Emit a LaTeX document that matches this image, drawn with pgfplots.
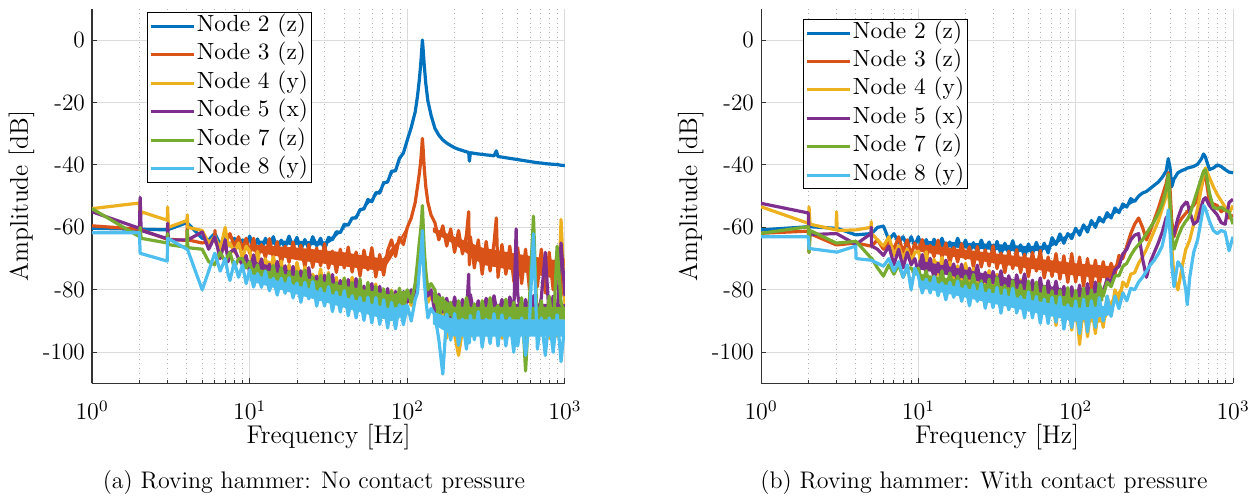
\documentclass[border=0pt]{standalone}
\usepackage{graphicx}
\usepackage{pgfplots}
\usepackage{pgfplotstable}
\pgfplotsset{compat=1.18}
\definecolor{c1}{rgb}{0,0.447,0.741}
\definecolor{c2}{rgb}{0.850,0.325,0.098}
\definecolor{c3}{rgb}{0.929,0.694,0.125}
\definecolor{c4}{rgb}{0.494,0.184,0.556}
\definecolor{c5}{rgb}{0.466,0.674,0.188}
\definecolor{c6}{rgb}{0.301,0.745,0.933}
\pgfplotsset{
  legend image code/.code={\draw[#1, line width=1.5pt] (0pt,0pt) -- (21.3pt,0pt);},
  every axis plot/.append style={line width=1.6pt, line join=round},
  band/.style={fill=#1, draw=none, forget plot},
}
\newcommand{\lfont}{\fontsize{12.8}{15}\selectfont}
\newcommand{\tfont}{\fontsize{11.7}{14}\selectfont}
\newcommand{\legtxt}[1]{\scalebox{1.17}{#1}}
% columns: f, Node2, Node3, Node4, Node5, Node7, Node8
\pgfplotstableread{
f a b c d e g
1 -60.3 -59.5 -54 -55 -54 -61.7
2 -60.6 -60.6 -52.2 -60.3 -63 -61.7
2.02 -60.6 -60.6 -57 -50.4 -60 -68.3
2.05 -60.6 -60.8 -55 -61 -63.5 -68.4
3 -60.8 -63.8 -57.7 -63.6 -65 -70.8
3.02 -60.8 -63.8 -53.5 -58.7 -62 -63.5
3.05 -60.7 -63.8 -60 -64 -65.5 -63.6
4 -58.5 -64.2 -57.8 -64 -66.4 -67
4.02 -58.6 -57.4 -56 -64 -61 -67.1
4.05 -58.7 -64 -60 -64 -66.5 -67.3
5 -63.5 -65 -61 -61.5 -67 -80
5.5 -64 -64.5 -65 -67 -71 -74
6 -62 -64 -63 -63 -72 -68.3
6.02 -62 -61 -63 -63.2 -71.8 -68.4
6.05 -62.2 -64.5 -63.2 -63.5 -71.5 -68.6
6.5 -65.5 -66 -67 -70 -68 -74
7 -63 -67 -60 -64 -71 -70
7.3 -65 -63 -66 -71 -69 -75
7.5 -66 -62 -65 -68 -68 -77
8 -63.5 -66 -68 -67 -73 -71
8.5 -66.5 -63 -65 -70 -70 -76
9 -64 -67 -70 -72 -70 -72
9.5 -66 -63.5 -66 -69 -73 -78
10 -62.8 -68.3 -67.6 -74.5 -71.0 -73.6
10.59 -66.8 -63.5 -72.3 -68.8 -75.8 -79.1
11.22 -63.7 -70.0 -67.7 -74.8 -72.0 -74.8
11.89 -67.2 -65.5 -73.5 -70.1 -77.8 -79.2
12.59 -63.5 -69.7 -70.0 -77.0 -73.8 -74.1
13.34 -66.1 -63.6 -75.1 -71.8 -77.8 -80.3
14.13 -63.0 -69.7 -69.4 -77.0 -72.2 -76.3
14.96 -67.0 -64.6 -74.3 -70.9 -78.8 -81.7
15.85 -64.1 -71.6 -70.8 -76.2 -72.9 -76.3
16.79 -66.5 -66.0 -77.4 -72.3 -78.8 -81.1
17.78 -62.8 -71.2 -72.0 -79.3 -74.1 -76.1
18.84 -66.3 -64.7 -77.6 -72.5 -81.0 -82.6
19.95 -63.2 -70.0 -71.2 -79.6 -74.1 -77.8
21.13 -67.2 -65.7 -77.4 -73.9 -79.7 -84.0
22.39 -63.9 -72.8 -72.7 -79.5 -73.7 -77.6
23.71 -66.8 -65.5 -79.9 -72.9 -81.1 -82.9
25.12 -63.0 -72.8 -75.0 -80.7 -75.8 -77.4
26.61 -65.9 -66.6 -80.0 -75.6 -82.7 -85.2
28.18 -63.5 -72.3 -73.3 -82.3 -75.4 -79.6
29.85 -67.2 -65.2 -81.4 -75.3 -82.0 -85.2
31.62 -63.2 -73.1 -74.4 -81.3 -74.9 -79.0
33.5 -63.9 -67.6 -81.4 -75.1 -83.6 -87.0
35.48 -61.4 -74.4 -76.0 -82.9 -77.7 -80.7
37.58 -61.7 -67.0 -84.2 -77.0 -85.3 -87.1
39.81 -59.0 -73.0 -76.3 -84.5 -76.2 -80.3
42.17 -59.3 -66.3 -82.8 -76.7 -84.0 -88.3
44.67 -57.0 -74.3 -76.0 -83.0 -77.6 -81.9
47.32 -57.0 -67.9 -84.7 -76.4 -86.2 -89.0
50.12 -54.3 -75.6 -78.7 -85.5 -76.5 -82.4
53.09 -54.1 -67.3 -86.6 -78.8 -87.7 -89.8
56.23 -51.1 -73.6 -78.4 -85.3 -77.6 -82.3
59.57 -51.8 -66.5 -86.0 -78.0 -87.0 -90.6
63.1 -48.9 -75.9 -78.1 -86.0 -78.9 -82.5
66.83 -49.0 -68.7 -88.0 -78.9 -88.3 -91.1
70.79 -45.7 -75.3 -81.5 -86.4 -79.7 -83.2
74.99 -45.5 -67.5 -90.0 -79.6 -88.4 -92.2
79.43 -42.0 -64.0 -80.1 -87.5 -80.4 -84.0
84.14 -41.9 -69.3 -86.4 -80.5 -87.5 -92.5
89.13 -37.9 -63.2 -80.2 -86.0 -79.5 -84.8
94.41 -36.2 -65.5 -85.6 -80.6 -86.6 -91.2
100 -32.0 -60.0 -81.5 -84.0 -80.0 -85.0
105.9 -28 -57 -85 -80 -84 -90
112.2 -23 -52 -80 -83 -78 -83
116 -18 -47 -75 -77 -71 -81
119 -13 -43 -71 -72 -65 -74
121.5 -8 -39 -66 -67 -61 -69
123.3 -3.5 -35 -61 -62 -57 -65
124.6 0 -31.5 -57 -58 -53 -61
126 -3 -35 -63 -66 -59 -69
128 -8 -41 -71 -73 -67 -77
131 -14 -47 -78 -78 -74 -83
135 -19.5 -52 -84 -82 -80 -89
141.3 -24 -56 -82 -80 -78 -86
149.6 -28.3 -58.5 -81.5 -87.2 -80.0 -88.0
158.5 -30.5 -64 -90.2 -81.4 -90.0 -96.0
167.9 -32.0 -59.5 -85.2 -87.1 -82.5 -107
177.8 -33.0 -66 -95.5 -82.7 -90.5 -87.8
188.4 -33.8 -60.5 -86.7 -89.5 -84.0 -96.1
199.5 -34.5 -68 -94.4 -82.3 -92.5 -87.6
211.3 -35.0 -61 -101 -89.1 -83.5 -97.8
223.9 -35.4 -68.5 -92.8 -83.1 -90.0 -89.4
237.1 -35.8 -62.5 -85.6 -88.3 -82.5 -99.0
245 -36.0 -55 -88 -75 -86 -92
247.5 -38.8 -72 -93 -88 -91 -97
251.2 -36.1 -63 -95.0 -81.5 -91.0 -88.2
266.1 -36.3 -73 -87.8 -88.7 -84.5 -96.0
281.8 -36.5 -64 -93.9 -83.5 -92.0 -87.0
298.5 -36.6 -75 -84.5 -89.5 -83.5 -98.4
316.2 -36.8 -64.5 -94.4 -82.7 -90.5 -89.4
335 -36.9 -74 -85.0 -87.9 -82.5 -97.2
354.8 -37.1 -65 -93.3 -81.9 -91.5 -87.6
367 -35.5 -57 -88 -86 -86 -93
375.8 -37.3 -76 -86.2 -88.7 -85.0 -98
398.1 -37.5 -65.5 -95.5 -83.1 -92.5 -88
421.7 -37.7 -75 -85.6 -89.5 -83.0 -98
446.7 -37.9 -66 -92.8 -82.3 -90.5 -89
473.2 -38.1 -77 -84.5 -87.5 -84.0 -100
490 -38.2 -80 -90 -60.5 -90 -90
501.2 -38.3 -66.5 -93.9 -81.5 -92.0 -98
530.9 -38.5 -78 -86.7 -89.1 -82.5 -89
562.3 -38.7 -67 -95.0 -83.1 -106 -101
595.7 -38.9 -80 -85.6 -88.3 -83 -90
631 -39.1 -67.5 -93.3 -81.9 -56.4 -62
668.3 -39.3 -79 -84.5 -89.5 -93 -99
707.9 -39.4 -67 -94.4 -82.5 -83.5 -89
749.9 -39.6 -81 -87.2 -68 -94 -101
794.3 -39.7 -68 -95.5 -89 -82 -89
841.4 -39.8 -80 -85 -82 -94 -100
891.3 -39.9 -67.5 -95 -89 -66 -88
944.1 -40.1 -82 -57.5 -65 -84 -103
1000 -40.2 -70 -85 -82 -88 -90
}\tabL
\pgfplotstableread{
f a b c d e g
1 -60.8 -61.9 -53.4 -52.3 -61.9 -63
2 -59.8 -61.2 -58.7 -55.4 -59.8 -63
2.02 -59.8 -68 -53.4 -62.4 -68 -66.8
2.05 -59.8 -62 -59 -62.3 -61 -66.8
3 -60.3 -65.6 -60.8 -62 -65 -67.9
3.02 -60.3 -65.6 -55 -62 -65 -67.9
3.05 -60.3 -65.6 -61 -62.1 -65 -67.9
4 -62.4 -65 -60.8 -65.4 -64.5 -66
4.02 -62.4 -65 -60.8 -65.4 -64.5 -70
5 -62 -66 -60 -62 -69.8 -70.5
5.02 -62 -66 -58.2 -60 -69.8 -70.5
5.05 -62 -66 -62 -66 -69.9 -70.6
5.5 -60 -64 -64 -67 -73 -71.5
6 -59.6 -67 -66 -69 -75.6 -72.4
6.5 -64 -64.5 -63 -66 -72 -70
7 -62 -67 -69 -72 -75 -74
7.5 -65 -63 -66 -67 -72 -71
8 -63 -68 -70 -73 -76 -76
8.5 -66 -64 -67 -68 -73 -72
9 -63 -69 -71 -72 -73 -80
9.5 -66 -65 -68 -70 -75 -73
10 -63.0 -68.0 -67.6 -74.5 -73.0 -75.6
10.59 -66.7 -63.9 -72.3 -68.7 -77.8 -81.0
11.22 -63.9 -69.6 -67.8 -74.6 -73.9 -76.6
11.89 -67.3 -65.8 -73.6 -69.9 -79.6 -81.0
12.59 -63.8 -69.4 -70.2 -76.6 -75.6 -75.8
13.34 -66.4 -64.1 -75.3 -71.5 -79.5 -81.9
14.13 -63.5 -69.5 -69.6 -76.4 -73.9 -77.8
14.96 -67.4 -65.0 -74.6 -70.5 -80.4 -83.2
15.85 -64.7 -71.3 -71.1 -75.4 -74.6 -77.6
16.79 -67.2 -66.4 -77.7 -71.7 -80.2 -82.4
17.78 -63.5 -71.1 -72.3 -78.1 -75.6 -77.2
18.84 -67.1 -65.2 -78.0 -71.8 -82.3 -83.7
19.95 -64.1 -70.0 -71.5 -78.3 -75.6 -78.8
21.13 -68.2 -66.2 -77.8 -73.1 -80.9 -85.1
22.39 -64.9 -72.7 -73.1 -78.1 -75.1 -78.4
23.71 -67.9 -66.1 -80.5 -72.1 -82.3 -83.7
25.12 -64.1 -72.7 -75.5 -79.0 -77.1 -78.0
26.61 -67.1 -67.2 -80.6 -74.4 -83.7 -85.9
28.18 -64.7 -72.4 -73.8 -80.2 -76.6 -80.0
29.85 -68.7 -65.9 -82.1 -74.1 -82.9 -85.7
31.62 -64.5 -73.2 -75.0 -79.3 -76.0 -79.2
33.5 -68.6 -68.2 -82.2 -73.9 -84.4 -87.5
35.48 -65.1 -74.5 -76.6 -80.5 -78.6 -80.0
37.58 -68.3 -67.6 -85.1 -75.5 -85.9 -86.4
39.81 -64.3 -73.2 -77.0 -81.8 -77.1 -79.5
42.17 -68.7 -67.1 -83.7 -75.2 -84.6 -87.4
44.67 -65.6 -74.5 -76.8 -80.4 -78.4 -82.2
47.32 -69.4 -68.6 -85.7 -74.9 -86.6 -89.0
50.12 -65.3 -75.8 -79.5 -82.5 -77.2 -80.7
53.09 -68.5 -68.0 -87.7 -76.9 -86.7 -89.0
56.23 -64.8 -74.0 -79.3 -82.2 -77.5 -82.1
59.57 -68.4 -67.4 -87.2 -76.2 -88.3 -90.7
63.1 -65.1 -76.2 -79.0 -83.9 -78.9 -83.0
66.83 -68.2 -69.5 -89.2 -77.1 -88.4 -90.8
70.79 -63.3 -75.7 -82.5 -82.9 -80.3 -82.4
74.99 -65.5 -68.4 -91.4 -77.2 -89.5 -90.4
79.43 -62.1 -76.6 -81.1 -83.8 -80.1 -82.3
84.14 -65.1 -69.1 -90.1 -78.9 -88.9 -92.6
89.13 -62.0 -77.6 -83.0 -85.5 -79.3 -84.8
94.41 -63.6 -68.4 -92.9 -79.0 -88.9 -92.1
100 -60.3 -77.5 -83.2 -85.2 -80.2 -83.6
105.9 -62.5 -69.5 -97.5 -78.5 -90 -94
112.2 -59.2 -79 -84 -85.5 -79.5 -83
118.9 -61.5 -70 -95 -78 -89 -93.5
125.9 -57.8 -79.5 -84.5 -85 -80 -83.5
133.4 -60 -70.5 -94 -77.5 -87.5 -92
141.3 -56.8 -78.5 -84 -83 -78 -82.5
149.6 -58.3 -71 -92 -80.5 -82 -90
158.5 -55.3 -77 -82 -76.5 -77.5 -82
167.9 -57 -71.5 -88 -77.5 -79 -88.5
177.8 -53.8 -75 -80 -73.5 -75.5 -82
188.4 -55.3 -69 -84 -72.5 -75.5 -86
199.5 -52.5 -70 -77.5 -68.5 -72.5 -81
211.3 -53.5 -66 -79 -67 -71.5 -83.5
223.9 -50.8 -62 -75 -64 -69 -79.5
237.1 -51.7 -59 -74.5 -62.5 -67 -80
251.2 -50 -57 -71.5 -62 -65.5 -77.5
266.1 -49 -60 -69.5 -70 -64 -76
281.8 -48.5 -64 -67 -76 -62 -74
298.5 -47.5 -61 -64 -71 -60 -72
316.2 -46.5 -57.5 -61 -68 -58 -70.5
335 -45.5 -54 -58 -65 -55.5 -68.5
354.8 -44 -50 -54 -61.5 -52.5 -66
375.8 -42 -46 -50 -57 -48 -60
388 -38 -42.5 -47 -56 -43 -54.4
398.1 -41 -48 -55 -60 -52 -62
408 -47 -58 -66 -64 -62 -72
421.7 -44.5 -63 -76 -62 -67 -79
446.7 -42.5 -59 -80 -57 -63 -71
473.2 -41.8 -57 -73 -53.5 -60 -73
501.2 -41.3 -55.5 -67 -52 -58 -80
512 -41 -55 -66 -52 -57.5 -84.8
530.9 -40.8 -54 -64 -55 -56 -76
562.3 -40.5 -53 -59 -59 -52 -68
595.7 -39.8 -51 -54 -58 -48 -64
631 -38 -47 -47 -53 -44 -57
650 -36.5 -44 -42.5 -51 -42 -53
668.3 -37.5 -43 -41 -50.5 -41.6 -54
707.9 -41.5 -52 -44 -53 -49 -58
749.9 -41 -52.5 -47 -54.5 -53.6 -61
794.3 -40 -53 -49.5 -56 -54 -62
841.4 -40.5 -55 -51.5 -58.5 -53.5 -61
891.3 -41.5 -54 -53.5 -59 -54.5 -61.5
944.1 -42.3 -57 -55.5 -52 -55 -67.5
1000 -42.5 -56 -53 -51 -59 -63
}\tabR
\begin{document}
\begin{tikzpicture}
\useasboundingbox (0,0) rectangle (628.5pt,248.5pt);
% ---------------- LEFT ----------------
\begin{axis}[at={(46pt,56.75pt)}, anchor=south west, width=236.5pt,
    scale only axis, height=187.35pt,
    xmode=log, xmin=1, xmax=1000, ymin=-110, ymax=10,
    xtick={1,10,100,1000},
    ytick={-100,-80,-60,-40,-20,0}, yticklabels={-100,-80,-60,-40,-20,0},
    axis x line*=bottom, axis y line*=left,
    axis line style={-, black!80, line width=0.5pt},
    tick style={black!80, line width=0.5pt}, tick align=inside,
    major tick length=2.5pt, minor tick length=1.6pt,
    xmajorgrids, ymajorgrids, xminorgrids,
    major grid style={black!14, line width=0.5pt},
    minor grid style={black!30, dotted, line width=0.45pt},
    ticklabel style={font=\tfont},
    xticklabel style={anchor=base, yshift=-18.25pt},
    xlabel={Frequency [Hz]}, ylabel={Amplitude [dB]},
    x label style={at={(axis description cs:0.5,0)}, anchor=base, yshift=-30.25pt, font=\lfont},
    y label style={at={(axis description cs:-0.1355,0.5)}, anchor=base, font=\lfont},
    legend style={at={(0.117,0.9906)}, anchor=north west, draw=black, line width=0.5pt, fill=white, inner sep=0.8pt, row sep=2.2pt,
      nodes={inner sep=0.9pt, text height=7.6pt, text depth=2.6pt}},
    legend cell align=left]
\addplot[band=c1] coordinates {(10,-64.2)(20,-64.3)(30,-64.5)(33,-63)(40,-60)(50,-54.5)(63,-49.3)(80,-42.8)(90,-38.3)(95,-35.7)(95,-36.3)(90,-38.7)(80,-43.2)(63,-50.2)(50,-55.3)(40,-60.3)(33,-64.5)(30,-65.8)(20,-65.6)(10,-65.4)};
\addplot[c1] table[x=f,y=a] {\tabL};
\addplot[band=c2] coordinates {(10,-65.5)(20,-66.5)(40,-68)(70,-70)(80,-66.5)(90,-63.5)(100,-59.5)(100,-60.5)(90,-65)(80,-69.5)(70,-74)(40,-72.5)(20,-70.5)(10,-67.5)};
\addplot[band=c2] coordinates {(145,-60)(200,-63)(300,-66.5)(500,-68.5)(1000,-71)(1000,-77)(500,-74)(300,-72)(200,-65.5)(145,-61.5)};
\addplot[c2] table[x=f,y=b] {\tabL};
\addplot[band=c3] coordinates {(10,-68.8)(31.6,-76.6)(79,-82.8)(100,-81.5)(100,-84)(79,-87.2)(31.6,-80.1)(10,-71.2)};
\addplot[band=c3] coordinates {(145,-85)(200,-87.5)(1000,-87.5)(1000,-92.5)(200,-92.5)(145,-88.5)};
\addplot[c3] table[x=f,y=c] {\tabL};
\addplot[band=c4] coordinates {(10,-70.6)(31.6,-77)(79,-82)(100,-81)(100,-84)(79,-86)(31.6,-80.4)(10,-73.4)};
\addplot[band=c4] coordinates {(145,-81.5)(200,-84.5)(1000,-84.5)(1000,-87.5)(200,-87.5)(145,-83.5)};
\addplot[c4] table[x=f,y=d] {\tabL};
\addplot[band=c5] coordinates {(10,-72.8)(31.6,-77.7)(79,-81.6)(100,-80)(100,-83)(79,-86.4)(31.6,-81.5)(10,-75.2)};
\addplot[band=c5] coordinates {(145,-80.5)(200,-85.5)(1000,-85.5)(1000,-89.5)(200,-89.5)(145,-84)};
\addplot[c5] table[x=f,y=e] {\tabL};
\addplot[band=c6] coordinates {(10,-74.8)(31.6,-81.1)(79,-86)(100,-84.5)(100,-88)(79,-90)(31.6,-84.3)(10,-77.2)};
\addplot[band=c6] coordinates {(145,-87)(200,-89.5)(1000,-89.5)(1000,-95)(200,-95)(145,-91)};
\addplot[c6] table[x=f,y=g] {\tabL};
\legend{\legtxt{Node 2 (z)},\legtxt{Node 3 (z)},\legtxt{Node 4 (y)},\legtxt{Node 5 (x)},\legtxt{Node 7 (z)},\legtxt{Node 8 (y)}}
\end{axis}
% ---------------- RIGHT ----------------
\begin{axis}[at={(380.5pt,56.75pt)}, anchor=south west, width=236pt,
    scale only axis, height=187.35pt,
    xmode=log, xmin=1, xmax=1000, ymin=-110, ymax=10,
    xtick={1,10,100,1000},
    ytick={-100,-80,-60,-40,-20,0}, yticklabels={-100,-80,-60,-40,-20,0},
    axis x line*=bottom, axis y line*=left,
    axis line style={-, black!80, line width=0.5pt},
    tick style={black!80, line width=0.5pt}, tick align=inside,
    major tick length=2.5pt, minor tick length=1.6pt,
    xmajorgrids, ymajorgrids, xminorgrids,
    major grid style={black!14, line width=0.5pt},
    minor grid style={black!30, dotted, line width=0.45pt},
    ticklabel style={font=\tfont},
    xticklabel style={anchor=base, yshift=-18.25pt},
    xlabel={Frequency [Hz]}, ylabel={Amplitude [dB]},
    x label style={at={(axis description cs:0.5,0)}, anchor=base, yshift=-30.25pt, font=\lfont},
    y label style={at={(axis description cs:-0.1355,0.5)}, anchor=base, font=\lfont},
    legend style={at={(0.090,0.9728)}, anchor=north west, draw=black, line width=0.5pt, fill=white, inner sep=0.8pt, row sep=2.2pt,
      nodes={inner sep=0.9pt, text height=7.6pt, text depth=2.6pt}},
    legend cell align=left]
\addplot[band=c1] coordinates {(10,-64.2)(30,-65.3)(50,-66)(66,-65.8)(80,-63.5)(100,-61.2)(150,-57.2)(240,-50.8)(240,-51.7)(150,-57.9)(100,-61.6)(80,-64.5)(66,-67)(50,-68)(30,-67.2)(10,-65.8)};
\addplot[c1] table[x=f,y=a] {\tabR};
\addplot[band=c2] coordinates {(10,-65.3)(31.6,-68.4)(100,-71.5)(175,-72.5)(190,-70)(190,-72)(175,-76.5)(100,-75.5)(31.6,-71.6)(10,-67.7)};
\addplot[c2] table[x=f,y=b] {\tabR};
\addplot[band=c3] coordinates {(10,-68.8)(31.6,-77.2)(100,-85.6)(150,-86.5)(200,-78.5)(200,-80)(150,-90.5)(100,-90.4)(31.6,-80.8)(10,-71.2)};
\addplot[c3] table[x=f,y=c] {\tabR};
\addplot[band=c4] coordinates {(10,-70.6)(31.6,-75.5)(100,-80.4)(150,-79.5)(150,-81.5)(100,-83.6)(31.6,-78.5)(10,-73.4)};
\addplot[c4] table[x=f,y=d] {\tabR};
\addplot[band=c5] coordinates {(10,-74.8)(31.6,-78.7)(100,-82.6)(150,-80.5)(150,-83.5)(100,-87.4)(31.6,-82.3)(10,-77.2)};
\addplot[c5] table[x=f,y=e] {\tabR};
\addplot[band=c6] coordinates {(10,-76.8)(31.6,-81.3)(100,-85.8)(170,-85)(170,-88)(100,-90.2)(31.6,-84.7)(10,-79.2)};
\addplot[c6] table[x=f,y=g] {\tabR};
\legend{\legtxt{Node 2 (z)},\legtxt{Node 3 (z)},\legtxt{Node 4 (y)},\legtxt{Node 5 (x)},\legtxt{Node 7 (z)},\legtxt{Node 8 (y)}}
\end{axis}
\node[anchor=base, font=\fontsize{12}{14}\selectfont] at (157pt,4pt) {(a) Roving hammer: No contact pressure};
\node[anchor=base, font=\fontsize{12}{14}\selectfont] at (492pt,4pt) {(b) Roving hammer: With contact pressure};
\end{tikzpicture}
\end{document}
